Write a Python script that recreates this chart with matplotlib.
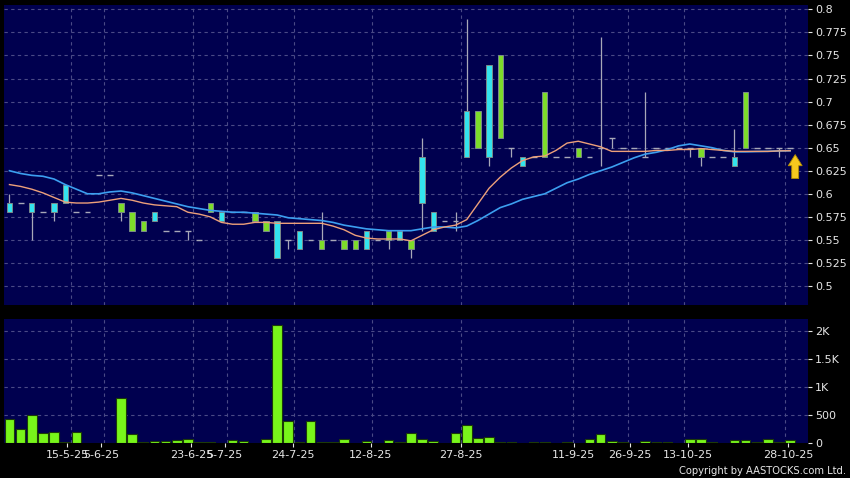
import matplotlib
matplotlib.use("Agg")
import matplotlib.pyplot as plt
import numpy as np

# daily prices (one entry per bar)
opens = [0.58, 0.59, 0.58, 0.58, 0.58, 0.59, 0.58, 0.58, 0.62, 0.62,
         0.59, 0.58, 0.57, 0.57, 0.56, 0.56, 0.56, 0.55, 0.59, 0.57,
         0.58, 0.58, 0.58, 0.57, 0.53, 0.55, 0.54, 0.55, 0.55, 0.55,
         0.55, 0.55, 0.54, 0.55, 0.56, 0.55, 0.55, 0.59, 0.56, 0.57,
         0.57, 0.64, 0.69, 0.64, 0.75, 0.65, 0.63, 0.64, 0.71, 0.64,
         0.64, 0.65, 0.64, 0.65, 0.66, 0.65, 0.65, 0.64, 0.65, 0.65,
         0.65, 0.65, 0.65, 0.64, 0.64, 0.63, 0.71, 0.65, 0.65, 0.65,
         0.65]
highs = [0.60, 0.59, 0.59, 0.58, 0.59, 0.61, 0.58, 0.58, 0.62, 0.62,
         0.59, 0.58, 0.57, 0.58, 0.56, 0.56, 0.56, 0.55, 0.59, 0.58,
         0.58, 0.58, 0.58, 0.57, 0.57, 0.55, 0.56, 0.55, 0.58, 0.55,
         0.55, 0.55, 0.56, 0.55, 0.56, 0.56, 0.55, 0.66, 0.58, 0.57,
         0.58, 0.79, 0.69, 0.74, 0.75, 0.65, 0.64, 0.64, 0.71, 0.64,
         0.64, 0.65, 0.64, 0.77, 0.66, 0.65, 0.65, 0.71, 0.65, 0.65,
         0.65, 0.65, 0.65, 0.64, 0.64, 0.67, 0.71, 0.65, 0.65, 0.65,
         0.65]
lows = [0.58, 0.59, 0.55, 0.58, 0.57, 0.59, 0.58, 0.58, 0.62, 0.62,
        0.57, 0.56, 0.56, 0.57, 0.56, 0.56, 0.55, 0.55, 0.58, 0.57,
        0.58, 0.58, 0.57, 0.56, 0.53, 0.54, 0.54, 0.55, 0.54, 0.55,
        0.54, 0.54, 0.54, 0.55, 0.54, 0.55, 0.53, 0.56, 0.56, 0.57,
        0.56, 0.64, 0.65, 0.63, 0.66, 0.64, 0.63, 0.64, 0.64, 0.64,
        0.64, 0.64, 0.64, 0.63, 0.65, 0.65, 0.65, 0.64, 0.65, 0.65,
        0.65, 0.64, 0.63, 0.64, 0.64, 0.63, 0.65, 0.65, 0.65, 0.64,
        0.65]
closes = [0.59, 0.59, 0.59, 0.58, 0.59, 0.61, 0.58, 0.58, 0.62, 0.62,
          0.58, 0.56, 0.56, 0.58, 0.56, 0.56, 0.56, 0.55, 0.58, 0.58,
          0.58, 0.58, 0.57, 0.56, 0.57, 0.55, 0.56, 0.55, 0.54, 0.55,
          0.54, 0.54, 0.56, 0.55, 0.55, 0.56, 0.54, 0.64, 0.58, 0.57,
          0.57, 0.69, 0.65, 0.74, 0.66, 0.65, 0.64, 0.64, 0.64, 0.64,
          0.64, 0.64, 0.64, 0.65, 0.66, 0.65, 0.65, 0.64, 0.65, 0.65,
          0.65, 0.65, 0.64, 0.64, 0.64, 0.64, 0.65, 0.65, 0.65, 0.65,
          0.65]
volumes = [427, 249, 510, 195, 201, 18, 201, 0, 0, 0,
           812, 160, 18, 41, 46, 59, 71, 23, 18, 0,
           64, 41, 5, 77, 2101, 403, 23, 397, 18, 18,
           77, 0, 46, 0, 59, 23, 195, 83, 53, 0,
           183, 326, 95, 118, 18, 23, 0, 18, 18, 0,
           18, 12, 71, 171, 36, 23, 0, 36, 23, 23,
           0, 77, 77, 18, 0, 59, 59, 23, 77, 23,
           59]
# moving averages as drawn (short = orange, long = blue)
ma_short = [0.610, 0.608, 0.605, 0.601, 0.596, 0.591, 0.590, 0.590, 0.591, 0.593,
            0.595, 0.593, 0.590, 0.588, 0.587, 0.586, 0.580, 0.578, 0.575, 0.569,
            0.567, 0.567, 0.569, 0.569, 0.568, 0.568, 0.568, 0.568, 0.568, 0.565,
            0.561, 0.555, 0.552, 0.551, 0.551, 0.551, 0.549, 0.555, 0.561, 0.564,
            0.566, 0.572, 0.589, 0.606, 0.618, 0.628, 0.636, 0.640, 0.641, 0.647,
            0.655, 0.657, 0.654, 0.651, 0.646, 0.646, 0.646, 0.646, 0.647, 0.647,
            0.648, 0.648, 0.649, 0.648, 0.647, 0.646, 0.646, 0.646, 0.646, 0.6465,
            0.6467]
ma_long = [0.625, 0.622, 0.620, 0.619, 0.616, 0.610, 0.605, 0.600, 0.600, 0.602,
           0.603, 0.601, 0.598, 0.595, 0.592, 0.589, 0.586, 0.584, 0.582, 0.581,
           0.580, 0.580, 0.579, 0.578, 0.577, 0.574, 0.573, 0.572, 0.571, 0.569,
           0.566, 0.564, 0.562, 0.561, 0.560, 0.560, 0.560, 0.562, 0.564, 0.564,
           0.563, 0.565, 0.571, 0.578, 0.585, 0.589, 0.594, 0.597, 0.600, 0.606,
           0.612, 0.616, 0.621, 0.625, 0.629, 0.634, 0.639, 0.643, 0.645, 0.648,
           0.652, 0.654, 0.652, 0.650, 0.647, 0.6455, 0.6455, 0.6458, 0.646, 0.6465,
           0.6467]
date_labels = ["15-5-25", "5-6-25", "23-6-25", "5-7-25", "24-7-25", "12-8-25",
               "27-8-25", "11-9-25", "26-9-25", "13-10-25", "28-10-25"]
date_ticks = [5.2, 8.2, 16.3, 19.3, 25.4, 32.4, 40.5, 50.6, 55.6, 60.8, 69.8]
grid_x = [5.5, 8.5, 16.5, 19.5, 25.5, 32.5, 40.5, 50.5, 55.5, 60.5, 69.5]

bg = "#00004f"
grid_col = "#4a4a86"
txt = "#e6e6e6"
up_col = "#33e3ee"
down_col = "#7ddc2a"
wick_col = "#a8a8b8"

x = np.arange(len(closes))
o = np.array(opens); c = np.array(closes)
h = np.array(highs); l = np.array(lows)

fig = plt.figure(figsize=(8.5, 4.78), dpi=100, facecolor="black")
ax = fig.add_axes([0.0047, 0.3619, 0.9459, 0.6276], facecolor=bg)
axv = fig.add_axes([0.0047, 0.0722, 0.9459, 0.2604], facecolor=bg)

for a in (ax, axv):
    for s in a.spines.values():
        s.set_visible(False)
    a.set_xlim(-0.49, 71.6)
    a.yaxis.tick_right()
    a.tick_params(axis="y", colors=txt, labelsize=8, length=3, width=0.8, pad=2)
    for gx in grid_x:
        a.axvline(gx, color=grid_col, lw=0.8, ls=(0, (3, 3)), zorder=0)

# price panel
ax.set_ylim(0.4794, 0.8047)
pticks = np.arange(0.5, 0.8001, 0.025)
ax.set_yticks(pticks)
ax.set_yticklabels(["%g" % round(t, 3) for t in pticks])
for t in pticks:
    ax.axhline(t, color=grid_col, lw=0.8, ls=(0, (3, 3)), zorder=0)
ax.set_xticks([])

ax.vlines(x, l, h, color=wick_col, lw=0.9, zorder=2)
flat = o == c
ax.hlines(c[flat], x[flat] - 0.26, x[flat] + 0.26, color=wick_col, lw=1.0, zorder=3)
body = ~flat
cols = np.where(c > o, up_col, down_col)
ax.bar(x[body], np.abs(c - o)[body], bottom=np.minimum(o, c)[body], width=0.48,
       color=cols[body], edgecolor="#7a8a8a", linewidth=0.7, zorder=4)

ax.plot(x, ma_long, color="#3c9ff0", lw=1.2, zorder=5)
ax.plot(x, ma_short, color="#eda07a", lw=1.0, zorder=5)

# marker under the latest bar
ax.annotate("", xy=(x[-1] + 0.45, 0.6425), xytext=(x[-1] + 0.45, 0.6165),
            arrowprops=dict(arrowstyle="simple,head_width=1.0,head_length=0.8,tail_width=0.5",
                            fc="#f7c81e", ec="#b08a00", lw=0.6, mutation_scale=10,
                            shrinkA=0, shrinkB=0),
            zorder=6)

# volume panel
axv.set_ylim(0, 2215)
axv.set_yticks([0, 500, 1000, 1500, 2000])
axv.set_yticklabels(["0", "500", "1K", "1.5K", "2K"])
for t in [500, 1000, 1500, 2000]:
    axv.axhline(t, color=grid_col, lw=0.8, ls=(0, (3, 3)), zorder=0)
axv.bar(x, volumes, width=0.86, color="#78f51a", edgecolor="#1c3a08", linewidth=0.8, zorder=3)
axv.set_xticks(date_ticks)
axv.set_xticklabels(date_labels)
axv.tick_params(axis="x", colors=txt, labelsize=8, length=3, width=0.8, pad=2)

fig.text(0.995, 0.004, "Copyright by AASTOCKS.com Ltd.", ha="right", va="bottom",
         color=txt, fontsize=7.2)

fig.savefig("out.png", dpi=100, facecolor="black")
